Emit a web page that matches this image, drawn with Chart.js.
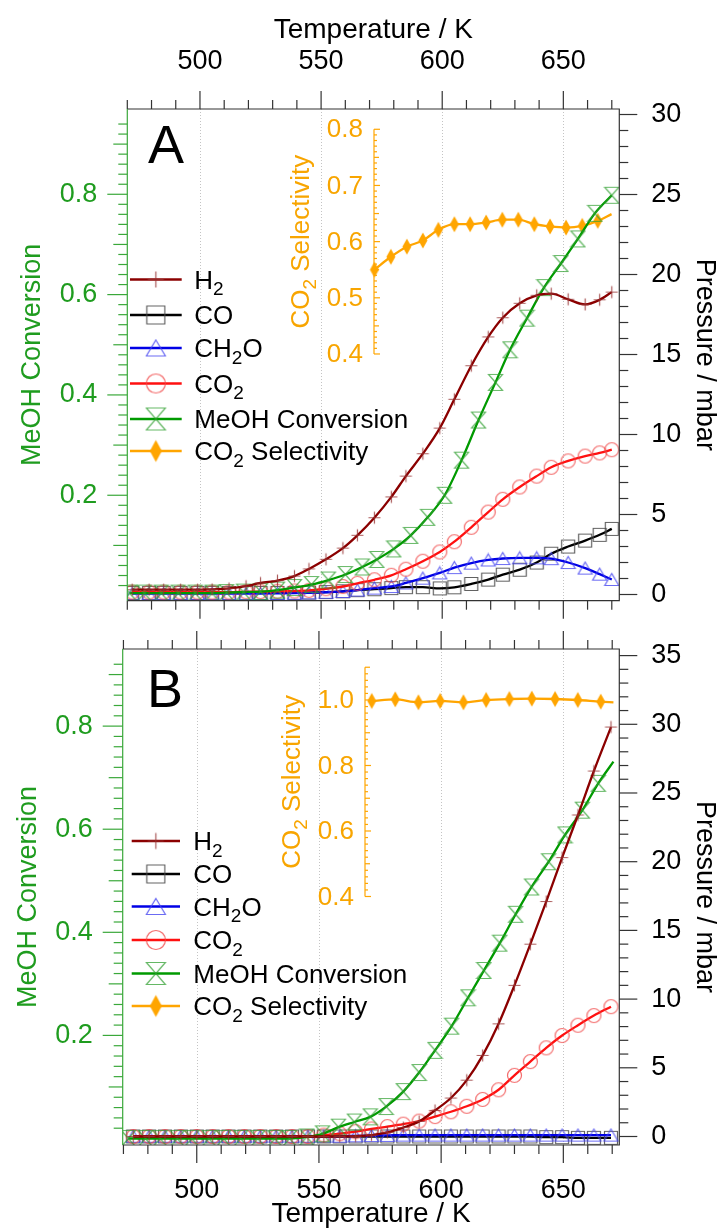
<!DOCTYPE html>
<html>
<head>
<meta charset="utf-8">
<script src="https://cdn.jsdelivr.net/npm/chart.js@4.4.1/dist/chart.umd.min.js"></script>
<style>
  html, body { margin: 0; padding: 0; background: #fff; }
  canvas { display: block; }
</style>
</head>
<body>
<canvas id="chartA" width="718" height="625"></canvas>
<canvas id="chartB" width="718" height="606"></canvas>
<script>
// ---------- data, panel A ----------
const tempA = [472, 479, 485, 492, 499, 505, 512, 519, 525, 532, 539, 545, 552, 559, 565, 572, 579, 585, 592, 599, 605, 612, 619, 625, 632, 639, 645, 652, 659, 665, 670];
const h2A   = [0.3, 0.3, 0.3, 0.3, 0.3, 0.32, 0.38, 0.52, 0.72, 0.87, 1.15, 1.6, 2.2, 2.9, 3.7, 4.8, 6.1, 7.4, 8.8, 10.4, 12.2, 14.3, 16.1, 17.3, 18.2, 18.7, 18.8, 18.45, 18.13, 18.42, 18.9];
const coA   = [0.1, 0.1, 0.1, 0.1, 0.1, 0.1, 0.1, 0.1, 0.1, 0.1, 0.1, 0.12, 0.15, 0.2, 0.27, 0.33, 0.4, 0.46, 0.46, 0.38, 0.45, 0.66, 0.93, 1.24, 1.55, 2.0, 2.55, 3.0, 3.37, 3.73, 4.1];
const ch2oA = [0.05, 0.05, 0.05, 0.05, 0.05, 0.05, 0.05, 0.06, 0.06, 0.07, 0.08, 0.1, 0.14, 0.19, 0.28, 0.4, 0.5, 0.72, 1.02, 1.35, 1.68, 1.96, 2.16, 2.25, 2.29, 2.29, 2.24, 2.0, 1.65, 1.27, 0.94];
const co2A  = [0.15, 0.15, 0.15, 0.15, 0.15, 0.15, 0.15, 0.17, 0.18, 0.2, 0.22, 0.26, 0.36, 0.5, 0.7, 0.92, 1.2, 1.58, 2.08, 2.66, 3.3, 4.2, 5.15, 5.95, 6.72, 7.4, 7.95, 8.35, 8.65, 8.85, 9.05];
const tempMeohA = [471, 477, 484, 491, 498, 505, 511, 518, 525, 532, 539, 546, 553, 560, 567, 573, 580, 587, 594, 601, 608, 615, 622, 628, 635, 642, 649, 656, 663, 670];
const meohA = [0.005, 0.005, 0.005, 0.005, 0.005, 0.005, 0.006, 0.007, 0.008, 0.011, 0.016, 0.022, 0.031, 0.042, 0.057, 0.072, 0.093, 0.12, 0.156, 0.2, 0.27, 0.35, 0.425, 0.49, 0.553, 0.614, 0.662, 0.711, 0.762, 0.798];
const tempSelA = [572, 578.8, 585.4, 592, 598.4, 605, 611.5, 618.1, 624.8, 631.4, 638, 644.5, 651.1, 657.8, 664.2, 669.9];
const selA  = [0.55, 0.573, 0.591, 0.602, 0.621, 0.631, 0.631, 0.634, 0.639, 0.639, 0.631, 0.627, 0.625, 0.628, 0.637, 0.649];

// ---------- data, panel B ----------
const tempB = [474, 480.5, 487, 493.5, 500, 506.5, 513, 519.5, 526, 532.5, 539, 545.5, 552, 558.5, 565, 571.5, 578, 584.5, 591, 597.5, 604, 610.5, 617, 623.5, 630, 636.5, 643, 649.5, 656, 662.5, 669.5];
const h2B   = [0, 0, 0, 0, 0, 0, 0, 0, 0, 0, 0, 0, 0, 0.01, 0.03, 0.1, 0.3, 0.65, 1.1, 1.9, 2.8, 4.1, 5.9, 8.2, 11.0, 14.0, 17.1, 20.3, 23.4, 26.6, 29.8];
const coB   = [0, 0, 0, 0, 0, 0, 0, 0, 0, 0, 0, 0, 0, 0, 0, 0, 0, 0, 0, 0, 0, 0, 0, 0, 0, 0, -0.05, -0.05, -0.1, -0.1, -0.1];
const ch2oB = [0.02, 0.02, 0.02, 0.02, 0.02, 0.02, 0.02, 0.02, 0.02, 0.02, 0.02, 0.02, 0.02, 0.02, 0.05, 0.07, 0.08, 0.1, 0.1, 0.1, 0.1, 0.1, 0.1, 0.1, 0.1, 0.1, 0.1, 0.1, 0.1, 0.1, 0.1];
const co2B  = [0, 0, 0, 0, 0, 0, 0, 0, 0, 0, 0, 0, 0.1, 0.2, 0.35, 0.55, 0.72, 0.9, 1.12, 1.45, 1.8, 2.2, 2.7, 3.4, 4.45, 5.45, 6.45, 7.35, 8.1, 8.8, 9.45];
const tempMeohB = [472, 479, 485, 492, 498, 505, 511, 518, 525, 532, 538, 545, 551.5, 558, 564.5, 571, 577.5, 584.5, 591, 597.5, 604.3, 611, 617.5, 624, 630.5, 637, 644, 650.7, 657.8, 664.3, 670.5];
const meohB = [0, 0, 0, 0, 0, 0, 0, 0, 0, 0, 0, 0.003, 0.009, 0.022, 0.032, 0.042, 0.062, 0.091, 0.128, 0.171, 0.218, 0.273, 0.326, 0.379, 0.435, 0.488, 0.537, 0.589, 0.637, 0.689, 0.731];
const tempSelB = [571.6, 581.2, 590.7, 599.6, 609.1, 618.4, 627.9, 637.1, 646.6, 655.9, 665.3, 670.5];
const selB  = [0.997, 1.002, 0.993, 0.997, 0.993, 1.0, 1.003, 1.004, 1.003, 1.0, 0.995, 0.993];

// ---------- ticks and labels ----------
const xTicks = [500, 550, 600, 650];
const pressureTicksA = [0, 5, 10, 15, 20, 25, 30];
const pressureTicksB = [0, 5, 10, 15, 20, 25, 30, 35];
const conversionTicks = [0.2, 0.4, 0.6, 0.8];
const selTicksA = [0.4, 0.5, 0.6, 0.7, 0.8];
const selTicksB = [0.4, 0.6, 0.8, 1.0];
const legendLabels = ['H_2', 'CO', 'CH_2O', 'CO_2', 'MeOH Conversion', 'CO_2 Selectivity'];

const FONT = "'Liberation Sans', Arial, sans-serif";
const GREEN_TEXT = '#1f9c1f';
const GREEN_AXIS = '#3aa83a';
const ORANGE = '#ffa500';
const ORANGE_TEXT = '#f8a500';
Chart.defaults.font.family = FONT;
Chart.defaults.color = '#000';

const styles = [
  { line: '#8b0000', mark: 'rgba(150,50,50,0.8)', shape: 'cross', w: 12, h: 12 },
  { line: '#000000', mark: 'rgba(70,70,70,0.85)', shape: 'square', w: 13, h: 13 },
  { line: '#0000e6', mark: 'rgba(70,70,240,0.8)', shape: 'triangle', w: 14, h: 12 },
  { line: '#ff1010', mark: 'rgba(240,70,70,0.8)', shape: 'circle', w: 14, h: 14 },
  { line: '#009a00', mark: 'rgba(50,160,50,0.75)', shape: 'hourglass', w: 14, h: 16 },
  { line: ORANGE, mark: ORANGE, shape: 'diamond', w: 9, h: 16 }
];

function marker(kind, w, h, color) {
  const c = document.createElement('canvas');
  c.width = w + 3; c.height = h + 3;
  const g = c.getContext('2d');
  g.translate(c.width / 2, c.height / 2);
  g.strokeStyle = color; g.fillStyle = color; g.lineWidth = 1.2;
  const hw = w / 2, hh = h / 2;
  g.beginPath();
  if (kind === 'cross') { g.moveTo(-hw, 0); g.lineTo(hw, 0); g.moveTo(0, -hh); g.lineTo(0, hh); g.stroke(); }
  if (kind === 'square') { g.rect(-hw, -hh, w, h); g.stroke(); }
  if (kind === 'triangle') { g.moveTo(0, -hh); g.lineTo(hw, hh); g.lineTo(-hw, hh); g.closePath(); g.stroke(); }
  if (kind === 'circle') { g.ellipse(0, 0, hw, hh, 0, 0, Math.PI * 2); g.stroke(); }
  if (kind === 'hourglass') { g.moveTo(-hw, -hh); g.lineTo(hw, -hh); g.lineTo(-hw, hh); g.lineTo(hw, hh); g.closePath(); g.stroke(); }
  if (kind === 'diamond') { g.moveTo(0, -hh); g.lineTo(hw, 0); g.lineTo(0, hh); g.lineTo(-hw, 0); g.closePath(); g.fill(); }
  return c;
}
const plotMarks = styles.map(s => marker(s.shape, s.w, s.h, s.mark));
const legendMarks = styles.map(s => marker(s.shape, Math.round(s.w * 1.35), Math.round(s.h * 1.35), s.mark));

function series(label, xs, ys, idx, axis, lastMark) {
  const st = styles[idx];
  return {
    label, yAxisID: axis,
    data: xs.map((x, i) => ({ x, y: ys[i] })),
    borderColor: st.line, backgroundColor: st.line, borderWidth: 2.3,
    cubicInterpolationMode: 'monotone',
    pointStyle: plotMarks[idx],
    pointRadius: xs.map((_, i) => (i === xs.length - 1 && !lastMark) ? 0 : 6)
  };
}

// text with single-char subscripts written as _x
function drawRich(ctx, str, x, y, size, align) {
  const parts = [];
  for (let i = 0; i < str.length; i++) {
    if (str[i] === '_') { parts.push([str[i + 1], true]); i++; }
    else if (parts.length && !parts[parts.length - 1][1]) parts[parts.length - 1][0] += str[i];
    else parts.push([str[i], false]);
  }
  const sub = Math.round(size * 0.72);
  let w = 0;
  parts.forEach(([t, s]) => { ctx.font = `${s ? sub : size}px ${FONT}`; w += ctx.measureText(t).width; });
  let cx = align === 'center' ? x - w / 2 : x;
  ctx.textAlign = 'left'; ctx.textBaseline = 'alphabetic';
  parts.forEach(([t, s]) => {
    ctx.font = `${s ? sub : size}px ${FONT}`;
    ctx.fillText(t, cx, y + (s ? size * 0.24 : 0));
    cx += ctx.measureText(t).width;
  });
}

function seg(ctx, x1, y1, x2, y2) {
  ctx.beginPath(); ctx.moveTo(x1, y1); ctx.lineTo(x2, y2); ctx.stroke();
}

const panelPlugin = {
  id: 'panel',
  beforeDatasetsDraw(chart) {
    const { ctx, chartArea: a, scales } = chart;
    ctx.save();
    ctx.strokeStyle = '#c4c4c4'; ctx.lineWidth = 1; ctx.setLineDash([1, 2]);
    xTicks.forEach(v => {
      const px = Math.round(scales.x.getPixelForValue(v)) + 0.5;
      seg(ctx, px, a.top, px, a.bottom);
    });
    ctx.restore();
  },
  afterDatasetsDraw(chart, args, o) {
    const { ctx, chartArea: a, scales } = chart;
    const sx = scales.x, sp = scales.yP, sc = scales.yC, ss = scales.yS;
    ctx.save();
    ctx.lineWidth = 1.2;
    // frame
    ctx.strokeStyle = '#333';
    ctx.beginPath();
    ctx.moveTo(a.left, a.top); ctx.lineTo(a.right, a.top); ctx.lineTo(a.right, a.bottom); ctx.lineTo(a.left, a.bottom);
    ctx.stroke();
    ctx.strokeStyle = GREEN_AXIS;
    seg(ctx, a.left, a.top, a.left, a.bottom);

    // temperature ticks on top and bottom edges
    ctx.strokeStyle = '#333';
    for (let v = Math.ceil(sx.min / 10) * 10; v <= sx.max; v += 10) {
      const px = sx.getPixelForValue(v);
      const len = v % 50 === 0 ? 18 : 9;
      seg(ctx, px, a.top, px, a.top - len);
      seg(ctx, px, a.bottom, px, a.bottom + len);
    }
    // pressure ticks
    for (let v = 0; v <= sp.max; v++) {
      const py = sp.getPixelForValue(v);
      seg(ctx, a.right, py, a.right + (v % 5 === 0 ? 18 : 9), py);
    }
    // conversion ticks
    ctx.strokeStyle = GREEN_AXIS;
    for (let i = 1; i * 0.02 <= sc.max - 0.015; i++) {
      const py = sc.getPixelForValue(i * 0.02);
      const len = i % 10 === 0 ? 20 : (i % 5 === 0 ? 14 : 9);
      seg(ctx, a.left, py, a.left - len, py);
    }

    // inset selectivity axis
    const ix = o.insetX;
    const [lo, hi] = o.selRange;
    ctx.strokeStyle = ORANGE;
    seg(ctx, ix, ss.getPixelForValue(lo), ix, ss.getPixelForValue(hi));
    const n = Math.round((hi - lo) / o.selMinor);
    for (let i = 0; i <= n; i++) {
      const v = lo + i * o.selMinor;
      const py = ss.getPixelForValue(v);
      const major = o.selTicks.some(t => Math.abs(t - v) < 1e-6);
      const mid = Math.abs(v / o.selMid - Math.round(v / o.selMid)) < 1e-6;
      seg(ctx, ix, py, ix + (major ? 6 : mid ? 5 : 3), py);
    }
    ctx.fillStyle = ORANGE_TEXT;
    ctx.font = `26px ${FONT}`;
    ctx.textAlign = 'right'; ctx.textBaseline = 'middle';
    o.selTicks.forEach(v => ctx.fillText(v.toFixed(1), ix - 11, ss.getPixelForValue(v) + 1));
    const midY = (ss.getPixelForValue(lo) + ss.getPixelForValue(hi)) / 2;
    ctx.save();
    ctx.translate(o.selTitleX, midY);
    ctx.rotate(-Math.PI / 2);
    drawRich(ctx, 'CO_2 Selectivity', 0, 26 * 0.36, 26, 'center');
    ctx.restore();

    // legend
    legendLabels.forEach((lab, i) => {
      const y = o.legendY[i];
      ctx.strokeStyle = styles[i].line; ctx.lineWidth = 2.5;
      seg(ctx, o.legendX[0], y, o.legendX[1], y);
      const m = legendMarks[i];
      const mx = (o.legendX[0] + o.legendX[1]) / 2;
      ctx.drawImage(m, mx - m.width / 2, y - m.height / 2);
      ctx.fillStyle = '#000';
      drawRich(ctx, lab, o.legendX[2], y + 26 * 0.36, 26, 'left');
    });

    // panel letter
    ctx.fillStyle = '#000';
    ctx.font = `54px ${FONT}`;
    ctx.textAlign = 'center'; ctx.textBaseline = 'alphabetic';
    ctx.fillText(o.letter, o.letterX, o.letterY);
    ctx.restore();
  }
};

function makePanel(id, p, datasets) {
  return new Chart(document.getElementById(id), {
    type: 'line',
    data: { datasets },
    plugins: [panelPlugin],
    options: {
      responsive: false,
      animation: false,
      events: [],
      layout: { padding: { top: p.padTop, bottom: p.padBottom, left: 0, right: 0 } },
      plugins: { legend: { display: false }, tooltip: { enabled: false }, panel: p.deco },
      scales: {
        x: {
          type: 'linear', position: p.xPos, min: p.xMin, max: p.xMax, bounds: 'data',
          afterBuildTicks: s => { s.ticks = xTicks.map(v => ({ value: v })); },
          afterFit: s => { s.height = p.xH; s.paddingLeft = 0; s.paddingRight = 0; },
          grid: { display: false, drawTicks: false }, border: { display: false },
          ticks: { font: { size: 27 }, color: '#000', padding: p.xPad, maxRotation: 0, autoSkip: false },
          title: { display: true, text: 'Temperature / K', color: '#000', font: { size: 28, lineHeight: 1 }, padding: p.xTitlePad }
        },
        yC: {
          type: 'linear', position: 'left', min: p.cMin, max: p.cMax, bounds: 'data',
          afterBuildTicks: s => { s.ticks = conversionTicks.map(v => ({ value: v })); },
          afterFit: s => { s.width = p.leftW; s.paddingTop = 0; s.paddingBottom = 0; },
          grid: { display: false, drawTicks: false }, border: { display: false },
          ticks: { font: { size: 27 }, color: GREEN_TEXT, padding: 30, autoSkip: false, callback: v => v.toFixed(1) },
          title: { display: true, text: 'MeOH Conversion', color: GREEN_TEXT, font: { size: 27, lineHeight: 1 }, padding: { top: p.leftTitlePad, bottom: 0 } }
        },
        yP: {
          type: 'linear', position: 'right', min: p.pMin, max: p.pMax, bounds: 'data',
          afterBuildTicks: s => { s.ticks = p.pTicks.map(v => ({ value: v })); },
          afterFit: s => { s.width = 98.7; s.paddingTop = 0; s.paddingBottom = 0; },
          grid: { display: false, drawTicks: false }, border: { display: false },
          ticks: { font: { size: 27 }, color: '#000', padding: 32, autoSkip: false },
          title: { display: true, text: 'Pressure / mbar', color: '#000', font: { size: 27, lineHeight: 1 }, padding: { top: 0, bottom: 0 } }
        },
        yS: { type: 'linear', display: false, min: p.sMin, max: p.sMax }
      }
    }
  });
}

makePanel('chartA', {
  padTop: 0, padBottom: 24.3, xPos: 'top', xMin: 470, xMax: 673.1, xH: 109, xPad: 31,
  xTitlePad: { top: 16, bottom: 0 }, leftW: 127.3, leftTitlePad: 19.5,
  cMin: -0.0102, cMax: 0.970, pMin: -0.3875, pMax: 30.344, sMin: -0.0392, sMax: 0.8361,
  pTicks: pressureTicksA,
  deco: {
    insetX: 374, selRange: [0.4, 0.8], selMinor: 0.01, selMid: 0.05, selTicks: selTicksA, selTitleX: 300,
    legendX: [130, 181.7, 194.3], legendY: [279.5, 315, 348, 383.5, 419, 451],
    letter: 'A', letterX: 166, letterY: 163
  }
}, [
  series('H2', tempA, h2A, 0, 'yP', true),
  series('MeOH Conversion', tempMeohA, meohA, 4, 'yC', true),
  series('CO2', tempA, co2A, 3, 'yP', true),
  series('CH2O', tempA, ch2oA, 2, 'yP', true),
  series('CO', tempA, coA, 1, 'yP', true),
  series('CO2 Selectivity', tempSelA, selA, 5, 'yS', false)
]);

makePanel('chartB', {
  padTop: 24, padBottom: 0, xPos: 'bottom', xMin: 469.7, xMax: 672.9, xH: 86, xPad: 29,
  xTitlePad: { top: 0, bottom: 3 }, leftW: 122.7, leftTitlePad: 15,
  cMin: -0.0126, cMax: 0.9496, pMin: -0.619, pMax: 35.48, sMin: -0.3588, sMax: 1.1557,
  pTicks: pressureTicksB,
  deco: {
    insetX: 365, selRange: [0.4, 1.1], selMinor: 0.02, selMid: 0.1, selTicks: selTicksB, selTitleX: 291,
    legendX: [131.7, 180, 193.3], legendY: [216, 249, 281.5, 315, 348.5, 381],
    letter: 'B', letterX: 165, letterY: 82
  }
}, [
  series('H2', tempB, h2B, 0, 'yP', true),
  series('MeOH Conversion', tempMeohB, meohB, 4, 'yC', false),
  series('CO2', tempB, co2B, 3, 'yP', true),
  series('CH2O', tempB, ch2oB, 2, 'yP', true),
  series('CO', tempB, coB, 1, 'yP', true),
  series('CO2 Selectivity', tempSelB, selB, 5, 'yS', false)
]);
</script>
</body>
</html>
